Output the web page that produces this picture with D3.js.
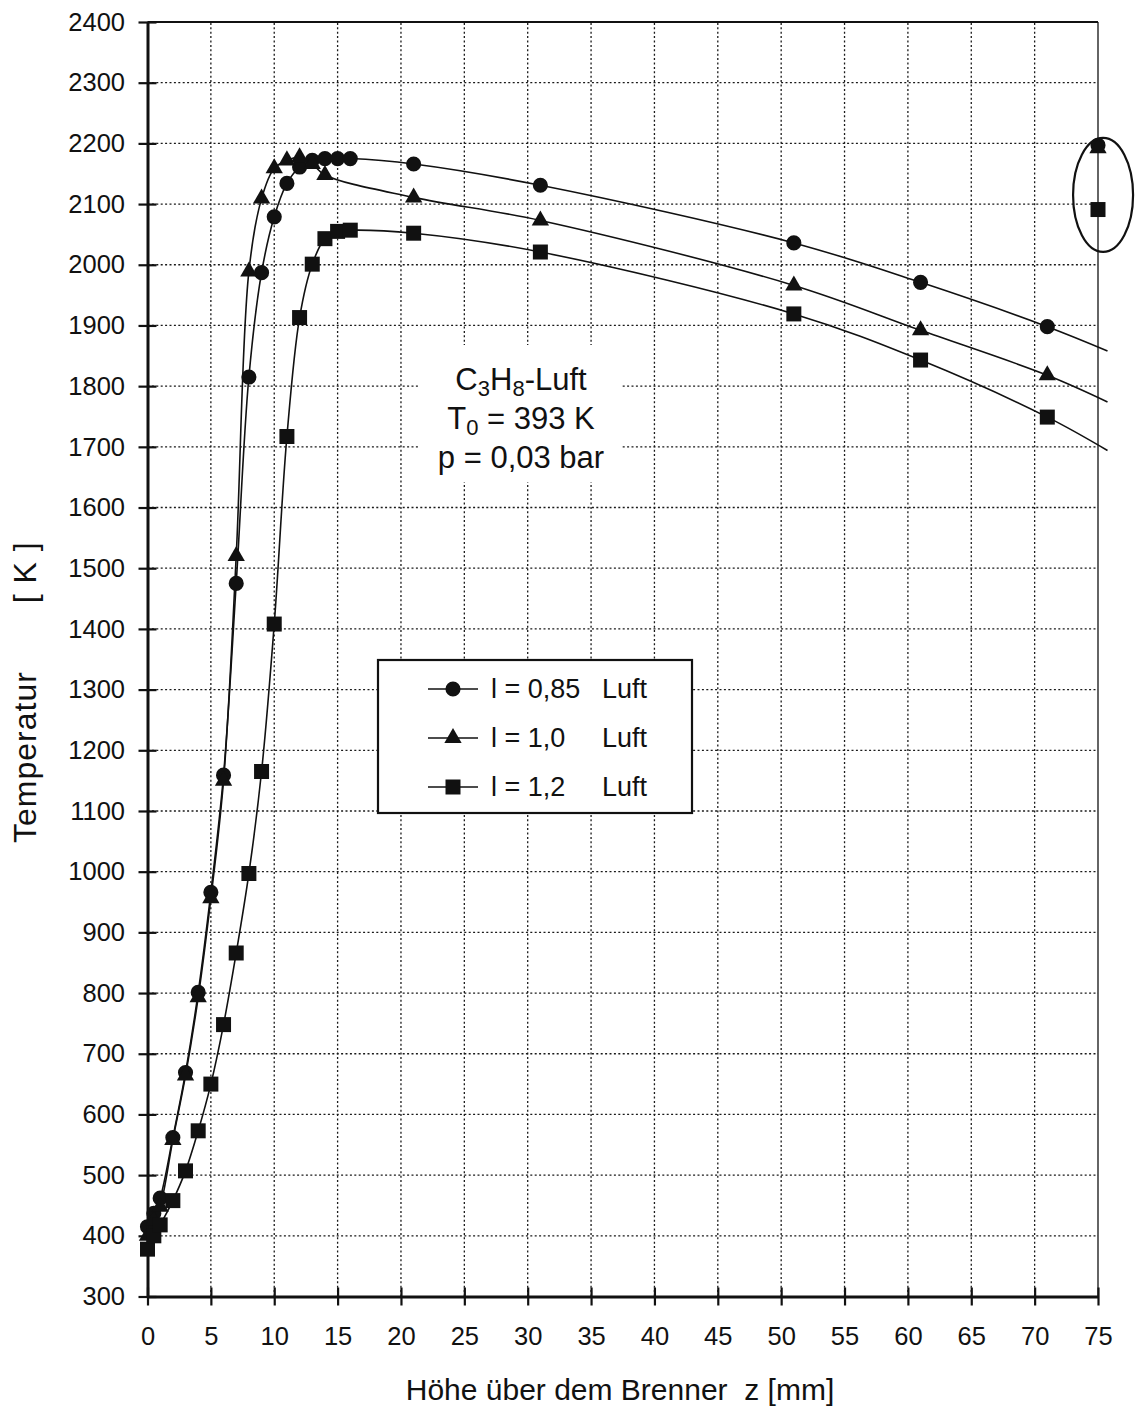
<!DOCTYPE html>
<html>
<head>
<meta charset="utf-8">
<script src="https://cdn.jsdelivr.net/npm/d3@7"></script>
<style>
  html, body { margin: 0; padding: 0; background: #fff; }
  svg { display: block; font-family: "Liberation Sans", Arial, sans-serif; }
</style>
</head>
<body>
<svg id="chart" width="1135" height="1409"></svg>
<script>
// Axis ticks
const xTicks = d3.range(0, 80, 5);
const yTicks = d3.range(300, 2500, 100);

// Temperature profiles above the burner, height z [mm] vs T [K]
const zL085 = [0, 0.5, 1, 2, 3, 4, 5, 6, 7, 8, 9, 10, 11, 12, 13, 14, 15, 16, 21, 31, 51, 61, 71];
const tL085 = [415, 437, 462, 562, 669, 801, 966, 1159, 1475, 1815, 1987, 2079, 2134, 2161, 2172, 2175, 2175, 2175, 2166, 2131, 2036, 1971, 1898];

const zL100 = [0, 0.5, 1, 2, 3, 4, 5, 6, 7, 8, 9, 10, 11, 12, 13, 14, 21, 31, 51, 61, 71];
const tL100 = [400, 425, 448, 558, 664, 793, 956, 1150, 1520, 1989, 2109, 2159, 2172, 2177, 2166, 2148, 2111, 2073, 1966, 1892, 1818];

const zL120 = [0, 0.5, 1, 2, 3, 4, 5, 6, 7, 8, 9, 10, 11, 12, 13, 14, 15, 16, 21, 31, 51, 61, 71];
const tL120 = [378, 400, 418, 458, 507, 573, 650, 748, 866, 997, 1165, 1408, 1717, 1913, 2001, 2043, 2055, 2057, 2052, 2021, 1919, 1843, 1749];

// End of each fitted curve beyond the last measurement
const tailZ = 75.75;
const tailT = [1858, 1774, 1694];

// Separately marked (circled) values at z = 75 mm
const zMarked = 75;
const tMarked = [2197, 2192, 2091];

const legendLabels = ["l = 0,85", "l = 1,0", "l = 1,2"];
const legendGas = "Luft";
const noteLines = [["C", "3", "H", "8", "-Luft"], ["T", "0", " = 393 K"], ["p = 0,03 bar"]];

const svg = d3.select("#chart");
const x = d3.scaleLinear().domain([0, 75]).range([147.5, 1098]);
const y = d3.scaleLinear().domain([300, 2400]).range([1296.5, 22]);

const ink = "#111";

// Dotted grid
const grid = svg.append("g")
  .attr("stroke", "#1a1a1a").attr("stroke-width", 1.3).attr("stroke-dasharray", "2,2.4");
grid.selectAll("line.v").data(xTicks.filter(d => d > 0 && d < 75)).join("line")
  .attr("class", "v")
  .attr("x1", d => x(d)).attr("x2", d => x(d))
  .attr("y1", y(300)).attr("y2", y(2400));
grid.selectAll("line.h").data(yTicks.filter(d => d > 300 && d < 2400)).join("line")
  .attr("class", "h")
  .attr("x1", x(0)).attr("x2", x(75))
  .attr("y1", d => y(d)).attr("y2", d => y(d));

// Frame: top and right edges
svg.append("line").attr("x1", x(0)).attr("x2", x(75)).attr("y1", y(2400)).attr("y2", y(2400))
  .attr("stroke", ink).attr("stroke-width", 2);
svg.append("line").attr("x1", x(75)).attr("x2", x(75)).attr("y1", y(2400)).attr("y2", y(300))
  .attr("stroke", ink).attr("stroke-width", 1.3);

// Label box behind the flame conditions
svg.append("rect").attr("x", 420).attr("y", 345).attr("width", 202).attr("height", 137).attr("fill", "#fff");

const note = svg.append("g").attr("fill", ink).attr("font-size", 31).attr("text-anchor", "middle");
noteLines.forEach((parts, i) => {
  const t = note.append("text").attr("x", 521).attr("y", 390 + i * 39);
  parts.forEach((p, j) => {
    const isSub = (i === 0 && (j === 1 || j === 3)) || (i === 1 && j === 1);
    const ts = t.append("tspan").text(p);
    if (isSub) ts.attr("font-size", 22).attr("dy", 6);
    else if (j > 0 && ((i === 0 && (j === 2 || j === 4)) || (i === 1 && j === 2))) ts.attr("dy", -6);
  });
});

// Axes
const yAxis = d3.axisLeft(y).tickValues(yTicks).tickFormat(d3.format("d"))
  .tickSizeInner(9).tickSizeOuter(0).tickPadding(13.5);
const gy = svg.append("g").attr("transform", `translate(${x(0)},0)`).call(yAxis);
const xAxis = d3.axisBottom(x).tickValues(xTicks).tickFormat(d3.format("d"))
  .tickSizeInner(9).tickSizeOuter(0).tickPadding(21);
const gx = svg.append("g").attr("transform", `translate(0,${y(300)})`).call(xAxis);

[gy, gx].forEach(g => {
  g.select(".domain").attr("stroke", ink).attr("stroke-width", 3);
  g.selectAll(".tick line").attr("stroke", ink).attr("stroke-width", 2.2);
  g.selectAll(".tick text").attr("fill", ink).attr("font-size", 25.5).attr("font-family", "Liberation Sans, Arial, sans-serif");
});
gy.selectAll(".tick line").attr("x1", 9).attr("x2", -9);
gx.selectAll(".tick line").attr("y1", -9).attr("y2", 9);

// Axis titles
svg.append("text").attr("x", 620).attr("y", 1400).attr("text-anchor", "middle")
  .attr("font-size", 30).attr("fill", ink).attr("xml:space", "preserve")
  .text("Höhe über dem Brenner  z [mm]");
const yt = svg.append("text").attr("transform", "translate(36,843) rotate(-90)")
  .attr("font-size", 32).attr("letter-spacing", 1).attr("fill", ink).attr("xml:space", "preserve");
yt.append("tspan").text("Temperatur");
yt.append("tspan").attr("dx", 68).text("[ K ]");

// Curves and markers
const series = [
  { z: zL085, t: tL085, sym: d3.symbolCircle, size: 180 },
  { z: zL100, t: tL100, sym: d3.symbolTriangle, size: 130 },
  { z: zL120, t: tL120, sym: d3.symbolSquare, size: 225 }
];
const line = d3.line().x(d => x(d[0])).y(d => y(d[1])).curve(d3.curveCatmullRom.alpha(0.5));

series.forEach((s, i) => {
  const pts = s.z.map((z, k) => [z, s.t[k]]);
  svg.append("path").datum(pts.concat([[tailZ, tailT[i]]]))
    .attr("d", line).attr("fill", "none").attr("stroke", ink).attr("stroke-width", 1.6);
});
series.forEach(s => {
  const pts = s.z.map((z, k) => [z, s.t[k]]);
  svg.append("g").selectAll("path").data(pts).join("path")
    .attr("transform", d => `translate(${x(d[0])},${y(d[1])})`)
    .attr("d", d3.symbol().type(s.sym).size(s.size)).attr("fill", ink);
});

// Circled values at z = 75 mm
series.forEach((s, i) => {
  svg.append("path").attr("transform", `translate(${x(zMarked)},${y(tMarked[i])})`)
    .attr("d", d3.symbol().type(s.sym).size(s.size)).attr("fill", ink);
});
svg.append("ellipse").attr("cx", x(75.4)).attr("cy", y(2115)).attr("rx", 30).attr("ry", 57)
  .attr("fill", "none").attr("stroke", ink).attr("stroke-width", 2.2);

// Legend
const lg = svg.append("g");
lg.append("rect").attr("x", 378).attr("y", 660).attr("width", 314).attr("height", 153)
  .attr("fill", "#fff").attr("stroke", ink).attr("stroke-width", 2.2);
series.forEach((s, i) => {
  const ry = 689 + i * 49;
  lg.append("line").attr("x1", 428).attr("x2", 478).attr("y1", ry).attr("y2", ry)
    .attr("stroke", ink).attr("stroke-width", 1.6);
  lg.append("path").attr("transform", `translate(453,${ry})`)
    .attr("d", d3.symbol().type(s.sym).size(s.size)).attr("fill", ink);
  lg.append("text").attr("x", 491).attr("y", ry + 9).attr("font-size", 27).attr("fill", ink)
    .text(legendLabels[i]);
  lg.append("text").attr("x", 602).attr("y", ry + 9).attr("font-size", 27).attr("fill", ink)
    .text(legendGas);
});
</script>
</body>
</html>
